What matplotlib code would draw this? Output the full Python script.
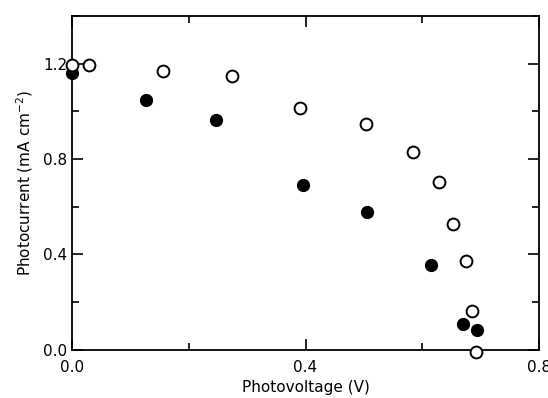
import matplotlib
matplotlib.use("Agg")
import matplotlib.pyplot as plt
from matplotlib.ticker import MultipleLocator

# open circles
open_v = [0.0, 0.029, 0.156, 0.274, 0.39, 0.503, 0.584, 0.629, 0.652, 0.675, 0.685, 0.692]
open_i = [1.195, 1.195, 1.17, 1.15, 1.015, 0.947, 0.829, 0.703, 0.526, 0.371, 0.164, -0.01]

# filled circles
fill_v = [0.0, 0.127, 0.247, 0.396, 0.505, 0.615, 0.670, 0.694]
fill_i = [1.162, 1.048, 0.964, 0.69, 0.577, 0.354, 0.109, 0.084]

plt.rcParams['font.family'] = ['DejaVu Sans']

fig = plt.figure(figsize=(5.48, 3.98), dpi=100)
ax = fig.add_axes([0.131, 0.121, 0.853, 0.839])

ax.plot(fill_v, fill_i, 'o', color='black', markersize=8.5, clip_on=False, zorder=3)
ax.plot(open_v, open_i, 'o', markerfacecolor='white', markeredgecolor='black',
        markeredgewidth=1.4, markersize=8.5, clip_on=False, zorder=4)

ax.set_xlim(0, 0.8)
ax.set_ylim(0, 1.4)
ax.xaxis.set_major_locator(MultipleLocator(0.4))
ax.xaxis.set_minor_locator(MultipleLocator(0.2))
ax.yaxis.set_major_locator(MultipleLocator(0.4))
ax.yaxis.set_minor_locator(MultipleLocator(0.2))
ax.xaxis.set_major_formatter(plt.FormatStrFormatter('%.1f'))
ax.yaxis.set_major_formatter(plt.FormatStrFormatter('%.1f'))

ax.tick_params(which='both', direction='in', top=True, right=True, width=1.2, labelsize=11)
ax.tick_params(axis='x', which='major', pad=7)
ax.tick_params(axis='y', which='major', pad=3)
ax.tick_params(which='major', length=8)
ax.tick_params(which='minor', length=5)
for s in ax.spines.values():
    s.set_linewidth(1.3)

ax.set_xlabel('Photovoltage (V)', fontsize=11, labelpad=4)
ax.set_ylabel('Photocurrent (mA cm$^{-2}$)', fontsize=11, labelpad=6)

fig.savefig("out.png", dpi=100)
